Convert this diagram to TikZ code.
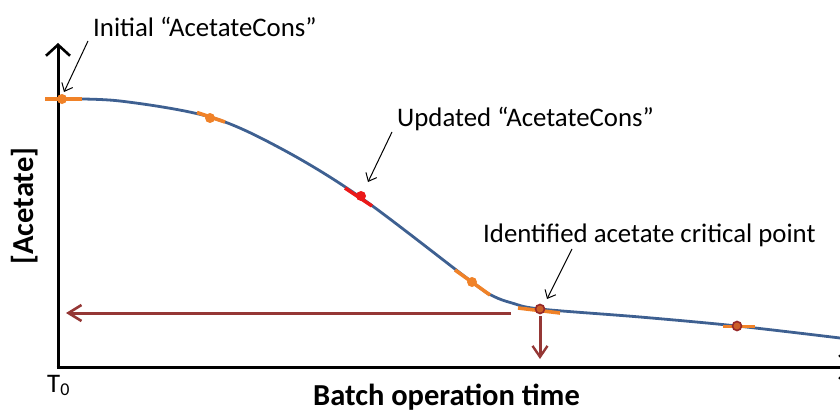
\documentclass[tikz,border=0pt]{standalone}
\usepackage{fontspec}
\setmainfont{Carlito}
\usetikzlibrary{arrows.meta,calc}
\definecolor{curveblue}{RGB}{62,96,145}
\definecolor{markorange}{RGB}{240,130,40}
\definecolor{markred}{RGB}{235,25,25}
\definecolor{arrowbrown}{RGB}{149,55,53}
\definecolor{ringred}{RGB}{150,40,40}
\begin{document}
\begin{tikzpicture}[x=1pt,y=-1pt,
  axisline/.style={line width=3pt,-{Straight Barb[length=11pt,width=24pt,line width=2.6pt]}},
  curveline/.style={line width=2.8pt,curveblue,line cap=round},
  tangentline/.style={line width=3.6pt,markorange},
  dotmark/.style={circle,fill=markorange,inner sep=0pt,minimum size=10pt},
  ringmark/.style={circle,draw=ringred,line width=1.6pt,fill=markorange!60!ringred,inner sep=0pt,minimum size=9pt},
  brownarrow/.style={line width=3pt,arrowbrown,-{Straight Barb[length=13pt,width=16pt,line width=2.6pt]}},
  notearrow/.style={line width=1pt,black,-{Straight Barb[length=7pt,width=12pt,line width=1pt]}},
  notelabel/.style={font=\fontsize{26.8pt}{30pt}\selectfont,inner sep=0pt},
  axislabel/.style={font=\fontsize{30.5pt}{34pt}\selectfont\bfseries,inner sep=0pt}
]
\useasboundingbox (0,0) rectangle (840,412);

% axes
\coordinate (origin) at (58,367);
\coordinate (ytop) at (58,43);
\coordinate (xend) at (852,367);
\draw[axisline] (origin) -- (ytop);
\draw[axisline] ($(origin)+(-1.5,0)$) -- (xend);

% measured acetate curve
\coordinate (p0) at (62,99);
\coordinate (p1) at (210,117);
\coordinate (p2) at (360,197);
\coordinate (p3) at (472,282);
\coordinate (p4) at (540,309);
\coordinate (p5) at (737,326);
\draw[curveline] plot[smooth,tension=0.55] coordinates
  {(58,99) (120,101) (p1) (280,148) (p2) (p3) (493,296) (512,303) (p4) (640,317) (p5) (840,338)};

% tangent estimates along the curve
\draw[tangentline] ($(p0)+(-17,0)$) -- ($(p0)+(20,0)$);
\node[dotmark] (m0) at (p0) {};
\draw[tangentline] ($(p1)+(-13,-4.5)$) -- ($(p1)+(15,5)$);
\node[dotmark] (m1) at ($(p1)+(0,1)$) {};
\draw[line width=3.6pt,markred] ($(p2)+(-15,-9)$) -- ($(p2)+(12,9)$);
\node[dotmark,fill=markred] (m2) at ($(p2)+(1,-1)$) {};
\draw[tangentline] ($(p3)+(-17,-12)$) -- ($(p3)+(18,13)$);
\node[dotmark] (m3) at (p3) {};
\draw[tangentline] ($(p4)+(-22,-1)$) -- ($(p4)+(20,4)$);
\node[ringmark] (m4) at (p4) {};
\draw[tangentline] ($(p5)+(-14,0.5)$) -- ($(p5)+(18,0.5)$);
\node[ringmark] (m5) at (p5) {};

% projections of the critical point
\coordinate (hstart) at (511,313);
\coordinate (hend) at (66,313);
\coordinate (vstart) at (540,316);
\coordinate (vend) at (540,359);
\draw[brownarrow] (hstart) -- (hend);
\draw[brownarrow,-{Straight Barb[length=11pt,width=15pt,line width=2.4pt]}] (vstart) -- (vend);

% annotations
\node[notelabel,anchor=base west] (initlbl) at (93,37) {Initial “AcetateCons”};
\node[notelabel,anchor=base west] (updlbl) at (397,126) {Updated “AcetateCons”};
\node[notelabel,anchor=base west] (critlbl) at (483,242) {Identified acetate critical point};
\coordinate (inittail) at (88,41);
\coordinate (inithead) at (64,92);
\coordinate (updtail) at (392,132);
\coordinate (updhead) at (368,182);
\coordinate (crittail) at (572,249);
\coordinate (crithead) at (547,299);
\draw[notearrow] (inittail) -- (inithead);
\draw[notearrow] (updtail) -- (updhead);
\draw[notearrow] (crittail) -- (crithead);

% axis labels
\node[axislabel,rotate=90] (ylbl) at (25,206) {[Acetate]};
\node[axislabel,anchor=base west] (xlbl) at (313,405) {Batch operation time};
\node[notelabel,anchor=base west] (t0) at (47,392) {T\raisebox{-0.12em}{\fontsize{18pt}{18pt}\selectfont 0}};
\end{tikzpicture}
\end{document}
